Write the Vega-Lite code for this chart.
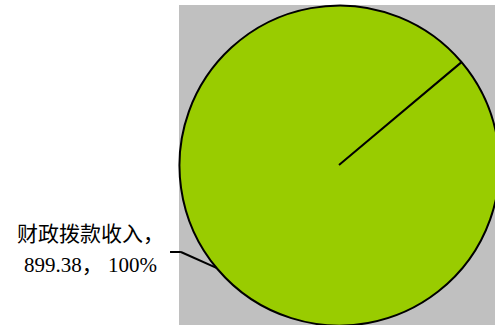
{
  "$schema": "https://vega.github.io/schema/vega-lite/v6.json",
  "autosize": {"type": "none"},
  "padding": {"left": 179, "top": 5, "right": 0, "bottom": 0},
  "width": 320,
  "height": 320,
  "background": "white",
  "view": {"fill": "#C0C0C0", "stroke": null},
  "data": {"values": [{"category": "财政拨款收入", "value": 899.38, "pct": "100%"}]},
  "layer": [
    {
      "mark": {"type": "arc", "outerRadius": 160, "stroke": "black", "strokeWidth": 2, "fill": "#99CC00"},
      "encoding": {
        "theta": {"field": "value", "type": "quantitative", "stack": true, "scale": {"range": [0.8727, 7.1554]}},
        "color": {"value": "#99CC00"}
      }
    },
    {
      "transform": [
        {"calculate": "datum.category + '，'", "as": "line1"},
        {"calculate": "format(datum.value, '.2f') + '， ' + datum.pct", "as": "line2"},
        {"calculate": "[datum.line1, datum.line2]", "as": "label"}
      ],
      "mark": {"type": "text", "radius": 160, "dx": -126, "dy": -33, "align": "center", "baseline": "middle", "font": "Liberation Serif, Noto Sans CJK SC", "fontSize": 21, "lineHeight": 31, "color": "#000000"},
      "encoding": {
        "theta": {"field": "value", "type": "quantitative", "stack": true},
        "text": {"field": "label"}
      }
    },
    {
      "transform": [
        {"joinaggregate": [{"op": "sum", "field": "value", "as": "total"}]},
        {"calculate": "0.8727 + 2 * PI * (datum.value / datum.total / 2)", "as": "a"},
        {"calculate": "sin(datum.a)", "as": "x0"},
        {"calculate": "cos(datum.a)", "as": "y0"},
        {"calculate": "datum.x0 - 0.222", "as": "x1"},
        {"calculate": "datum.y0 + 0.099", "as": "y1"},
        {"calculate": "datum.x1 - 0.068", "as": "x2"}
      ],
      "layer": [
        {
          "mark": {"type": "rule", "color": "black", "strokeWidth": 2},
          "encoding": {
            "x": {"field": "x0", "type": "quantitative", "scale": {"domain": [-1, 1]}, "axis": null},
            "y": {"field": "y0", "type": "quantitative", "scale": {"domain": [-1, 1]}, "axis": null},
            "x2": {"field": "x1"},
            "y2": {"field": "y1"}
          }
        },
        {
          "mark": {"type": "rule", "color": "black", "strokeWidth": 2},
          "encoding": {
            "x": {"field": "x1", "type": "quantitative", "scale": {"domain": [-1, 1]}, "axis": null},
            "y": {"field": "y1", "type": "quantitative", "scale": {"domain": [-1, 1]}, "axis": null},
            "x2": {"field": "x2"},
            "y2": {"field": "y1"}
          }
        }
      ]
    }
  ]
}
